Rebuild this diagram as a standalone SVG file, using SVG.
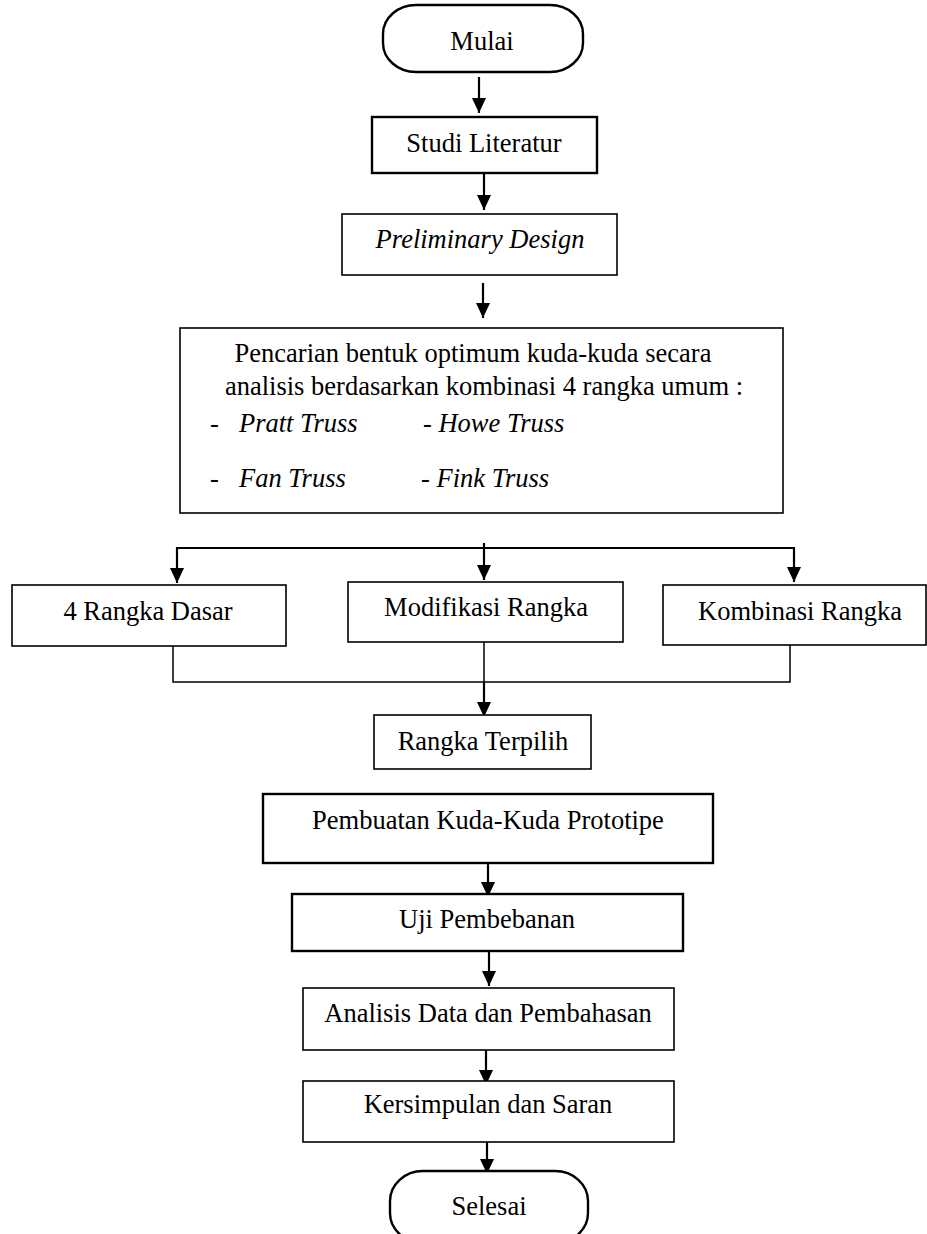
<svg xmlns="http://www.w3.org/2000/svg" width="927" height="1234" viewBox="0 0 927 1234">
<style>
.box{fill:#fff;stroke:#000;stroke-width:1.6}
.thick{stroke-width:2.4}
.t{font-family:"Liberation Serif","Times New Roman",serif;font-size:26.5px;fill:#000;text-anchor:middle}
.ts{font-family:"Liberation Serif","Times New Roman",serif;font-size:26.5px;fill:#000}
.i{font-style:italic}
.c{fill:none;stroke:#000;stroke-width:2.2}
.cl{fill:none;stroke:#000;stroke-width:1.5}
</style>
<defs>
<marker id="arr" markerUnits="userSpaceOnUse" markerWidth="16" markerHeight="14" refX="15" refY="7" orient="auto" viewBox="0 0 16 14">
<path d="M0,0 L15,7 L0,14 Z" fill="#000"/>
</marker>
</defs>

<g id="connectors">
<line class="c" x1="479" y1="77" x2="479" y2="113" marker-end="url(#arr)"/>
<line class="c" x1="484" y1="173" x2="484" y2="210" marker-end="url(#arr)"/>
<line class="c" x1="483" y1="283" x2="483" y2="318" marker-end="url(#arr)"/>
<line class="c" x1="484" y1="543" x2="484" y2="548"/>
<line class="c" x1="176" y1="548" x2="795" y2="548"/>
<line class="c" x1="177" y1="548" x2="177" y2="583" marker-end="url(#arr)"/>
<line class="c" x1="484" y1="548" x2="484" y2="580" marker-end="url(#arr)"/>
<line class="c" x1="794" y1="548" x2="794" y2="582" marker-end="url(#arr)"/>
<polyline class="cl" points="173,646 173,682 790,682 790,645"/>
<line class="cl" x1="484" y1="642" x2="484" y2="682"/>
<line class="c" x1="484" y1="682" x2="484" y2="717" marker-end="url(#arr)"/>
<line class="c" x1="488" y1="863" x2="488" y2="897" marker-end="url(#arr)"/>
<line class="c" x1="489" y1="951" x2="489" y2="986" marker-end="url(#arr)"/>
<line class="c" x1="486" y1="1050" x2="486" y2="1085" marker-end="url(#arr)"/>
<line class="c" x1="487" y1="1142" x2="487" y2="1174" marker-end="url(#arr)"/>
</g>

<g id="mulai">
<rect class="box thick" x="383" y="5" width="200" height="67" rx="33" ry="29"/>
<text class="t" x="482" y="50">Mulai</text>
</g>
<g id="studi-literatur">
<rect class="box thick" x="372" y="117" width="225" height="56"/>
<text class="t" x="484" y="152">Studi Literatur</text>
</g>
<g id="preliminary-design">
<rect class="box" x="342" y="214" width="275" height="61"/>
<text class="t i" x="480" y="248">Preliminary Design</text>
</g>
<g id="pencarian">
<rect class="box" x="180" y="328" width="603" height="185"/>
<text class="t" x="473" y="362">Pencarian bentuk optimum kuda-kuda secara</text>
<text class="t" x="484" y="395">analisis berdasarkan kombinasi 4 rangka umum :</text>
<text class="ts" x="210" y="432">-</text>
<text class="ts i" x="239" y="432">Pratt Truss</text>
<text class="ts" x="423" y="432">- <tspan class="i">Howe Truss</tspan></text>
<text class="ts" x="210" y="487">-</text>
<text class="ts i" x="239" y="487">Fan Truss</text>
<text class="ts" x="421" y="487">- <tspan class="i">Fink Truss</tspan></text>
</g>
<g id="rangka-dasar">
<rect class="box" x="12" y="585" width="274" height="61"/>
<text class="t" x="148" y="620">4 Rangka Dasar</text>
</g>
<g id="modifikasi-rangka">
<rect class="box" x="348" y="582" width="275" height="60"/>
<text class="t" x="486" y="616">Modifikasi Rangka</text>
</g>
<g id="kombinasi-rangka">
<rect class="box" x="663" y="585" width="263" height="60"/>
<text class="t" x="800" y="620">Kombinasi Rangka</text>
</g>
<g id="rangka-terpilih">
<rect class="box" x="374" y="715" width="217" height="54"/>
<text class="t" x="483" y="750">Rangka Terpilih</text>
</g>
<g id="pembuatan">
<rect class="box thick" x="263" y="794" width="450" height="69"/>
<text class="t" x="488" y="829">Pembuatan Kuda-Kuda Prototipe</text>
</g>
<g id="uji-pembebanan">
<rect class="box thick" x="292" y="894" width="391" height="57"/>
<text class="t" x="487" y="928">Uji Pembebanan</text>
</g>
<g id="analisis">
<rect class="box" x="303" y="988" width="371" height="62"/>
<text class="t" x="488" y="1022">Analisis Data dan Pembahasan</text>
</g>
<g id="kesimpulan">
<rect class="box" x="303" y="1081" width="371" height="61"/>
<text class="t" x="488" y="1113">Kersimpulan dan Saran</text>
</g>
<g id="selesai">
<rect class="box thick" x="390" y="1171" width="198" height="72" rx="33" ry="30"/>
<text class="t" x="489" y="1215">Selesai</text>
</g>
</svg>
